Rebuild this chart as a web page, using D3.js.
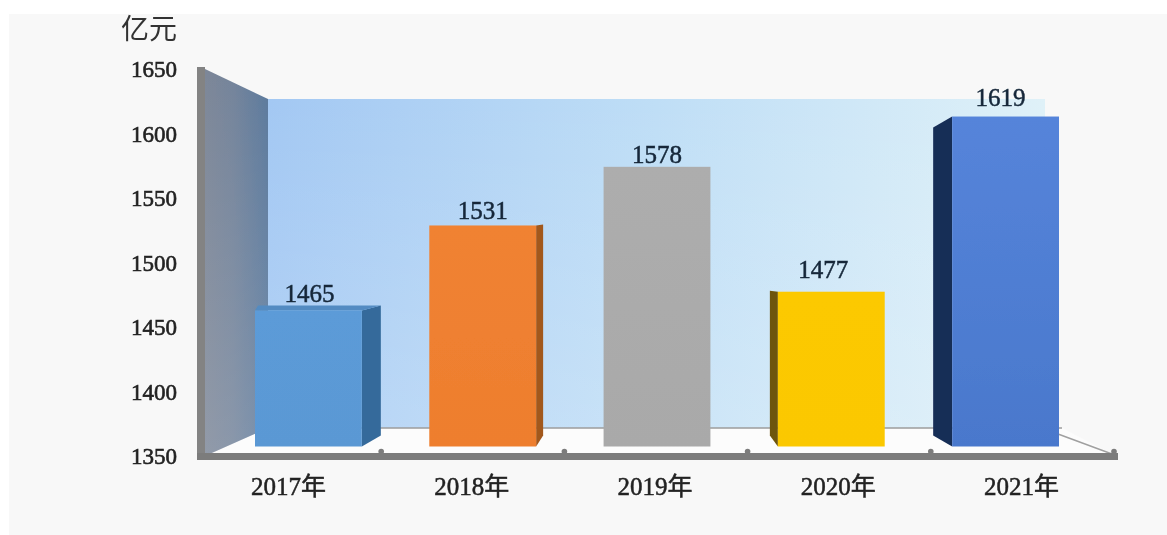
<!DOCTYPE html>
<html><head><meta charset="utf-8">
<style>html,body{margin:0;padding:0;background:#fff}svg{display:block}</style>
<script src="https://cdn.jsdelivr.net/npm/d3@7/dist/d3.min.js"></script>
</head><body><svg id="c" width="1167" height="535"></svg>
<script>
const categories = ["2017年","2018年","2019年","2020年","2021年"];
const values = [1465,1531,1578,1477,1619];
const yTicks = [1350,1400,1450,1500,1550,1600,1650];
const unit = "亿元";

// styling
const barFront = ["#5b9bd8","#f08232","#adadad","#fcc900","#5584da"];
const barFrontEnd = ["#5a98d4","#ee7e2e","#a9a9a9","#fbc800","#4a78cc"];
const barSide = ["#356a9b","#a2581e","#757575","#6e5508","#172d57"];
// 3D look of each bar: side-face width (signed), top edge drop at the near and far side
const sideW = [19,7,0,-8,-19];
const nearDrop = [5,1,0,1,0];
const farDrop = [0,0,0,0,11];
const labelDx = [1,0,0,-8,-5];
const labelDy = [3,5,4,13,11];

const svg = d3.select("#c");
const defs = svg.append("defs");
defs.append("filter").attr("id","soft").attr("x","-5%").attr("y","-5%").attr("width","110%").attr("height","110%")
  .append("feGaussianBlur").attr("stdDeviation",0.75);
function grad(id,x2,y2,stops){
  const g=defs.append("linearGradient").attr("id",id).attr("x1",0).attr("y1",0).attr("x2",x2).attr("y2",y2);
  stops.forEach(([o,c,a])=>g.append("stop").attr("offset",o).attr("stop-color",c).attr("stop-opacity",a===undefined?1:a));
}
grad("back",1,0,[[0,"#a3c8f3"],[.5,"#bfdef6"],[1,"#dff1f8"]]);
grad("backV",0,1,[[0,"#fff",0],[1,"#fff",.18]]);
grad("side",1,0,[[0,"#7d8798"],[.45,"#74849b"],[1,"#5c7a9d"]]);
grad("sideV",0,1,[[0,"#fff",0],[1,"#fff",.16]]);
categories.forEach((c,i)=>grad("bar"+i,0,1,[[0,barFront[i]],[1,barFrontEnd[i]]]));

const sans='"Noto Sans CJK SC",sans-serif', serif='"Liberation Serif","Noto Sans CJK SC",serif';
svg.append("rect").attr("x",9).attr("y",14).attr("width",1158).attr("height",521).attr("fill","#f8f8f8");
const g = svg.append("g").attr("filter","url(#soft)");

// axis-frame scales
const axisX = d3.scaleBand().domain(categories).range([198,1114]);
const axisY = d3.scaleLinear().domain([1350,1650]).range([456,69]);
// bar plane scales (set back from the frame by the 3D depth)
const barX = d3.scaleBand().domain(categories).range([255,1059]).paddingInner(0.387);
const barY = d3.scaleLinear().domain([1350,1650]).range([446.5,78.5]);
const depthDrop = 11;

// walls and floor
const wall={l:205,b:268,r:1045,t:99,bot:428,fb:456};
g.append("polygon").attr("points",`${wall.l},${wall.fb} ${wall.b},${wall.bot} 1062,${wall.bot} 1116,${wall.fb}`).attr("fill","#fcfcfc");
["url(#back)","url(#backV)"].forEach(f=>g.append("rect").attr("x",wall.b).attr("y",wall.t).attr("width",wall.r-wall.b).attr("height",wall.bot-wall.t).attr("fill",f));
["url(#side)","url(#sideV)"].forEach(f=>g.append("polygon").attr("points",`${wall.l},69 ${wall.b},${wall.t} ${wall.b},${wall.bot} ${wall.l},${wall.fb}`).attr("fill",f));
g.append("line").attr("x1",wall.b).attr("x2",1062).attr("y1",wall.bot).attr("y2",wall.bot).attr("stroke","#9d9d9d").attr("stroke-width",1.5);
g.append("line").attr("x1",1058).attr("x2",1112).attr("y1",wall.bot+6).attr("y2",454).attr("stroke","#a0a0a0").attr("stroke-width",1.5);

// axis posts
g.append("rect").attr("x",197).attr("y",axisY(1650)-2).attr("width",8).attr("height",axisY(1350)-axisY(1650)+5).attr("fill","#838383");
g.append("rect").attr("x",197).attr("y",453).attr("width",921).attr("height",7).attr("fill","#7c7c7c");
categories.forEach(c=>{
  g.append("circle").attr("cx",axisX(c)+axisX.step()).attr("cy",451.5).attr("r",2.8).attr("fill","#7c7c7c");
});

// bars
categories.forEach((c,i)=>{
  const x0=barX(c), w=barX.bandwidth(), top=barY(values[i]), base=barY(1350);
  const s=sideW[i], edge=s>0?x0+w:x0, fx=edge+s;
  if(s!==0){
    g.append("polygon")
      .attr("points",`${edge},${top+nearDrop[i]} ${fx},${top+farDrop[i]} ${fx},${base-depthDrop} ${edge},${base}`)
      .attr("fill",barSide[i]);
  }
  if(nearDrop[i]>1){
    g.append("polygon")
      .attr("points",`${x0},${top+nearDrop[i]} ${x0+3},${top} ${x0+w+s},${top} ${x0+w},${top+nearDrop[i]}`)
      .attr("fill",d3.color(barFront[i]).darker(0.3));
  }
  g.append("rect").attr("x",x0).attr("y",top+nearDrop[i]).attr("width",w).attr("height",base-top-nearDrop[i]).attr("fill",`url(#bar${i})`);
  g.append("text").attr("x",x0+w/2+labelDx[i]).attr("y",top-labelDy[i]).attr("text-anchor","middle")
    .attr("font-family",serif).attr("font-size",25).attr("fill","#16283a").attr("stroke","#16283a").attr("stroke-width",.5).text(values[i]);
  g.append("text").attr("x",axisX(c)+axisX.step()/2-1).attr("y",495).attr("text-anchor","middle")
    .attr("font-family",serif).attr("font-size",25).attr("fill","#222").attr("stroke","#222").attr("stroke-width",.5).text(c);
});

// y tick labels
yTicks.forEach(t=>{
  g.append("text").attr("x",177).attr("y",axisY(t)+8).attr("text-anchor","end")
    .attr("font-family",serif).attr("font-size",23).attr("fill","#222").attr("stroke","#222").attr("stroke-width",.6).text(t);
});
g.append("text").attr("x",149).attr("y",39).attr("text-anchor","middle").attr("font-family",sans).attr("font-size",28).attr("fill","#333").text(unit);
</script></body></html>
